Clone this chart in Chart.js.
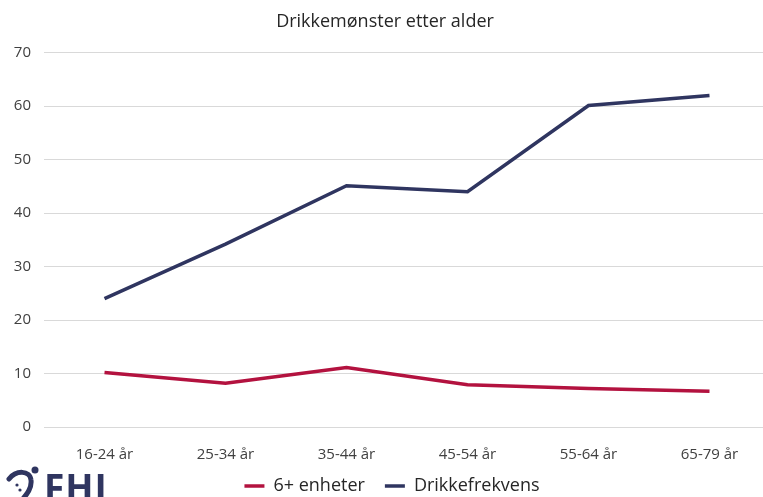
<!DOCTYPE html>
<html>
<head>
<meta charset="utf-8">
<script src="https://cdn.jsdelivr.net/npm/chart.js@4.4.0/dist/chart.umd.min.js"></script>
<style>
  html, body { margin: 0; padding: 0; background: #fff; overflow: hidden; }
  #wrap { position: relative; width: 763px; height: 497px; overflow: hidden; }
  #logo { position: absolute; left: 44px; top: 468px; font-family: "Open Sans", sans-serif; font-weight: 700;
          font-size: 37px; color: #2f3560; letter-spacing: 1px; line-height: 37px; }
  #mark { position: absolute; left: 6px; top: 464px; }
</style>
</head>
<body>
<div id="wrap">
  <canvas id="drikkeChart" width="770" height="497"></canvas>
  <svg id="mark" width="36" height="36" viewBox="0 0 36 36">
    <path d="M3 15 C 10 6, 24 6, 25 16 C 26 24, 21 30, 16 36" fill="none" stroke="#2f3560" stroke-width="5" stroke-linecap="round"/>
    <circle cx="29" cy="6" r="3.5" fill="#2f3560"/>
    <circle cx="11" cy="21" r="1.6" fill="#2f3560"/>
    <circle cx="14" cy="26" r="1.6" fill="#2f3560"/>
  </svg>
  <div id="logo">FHI</div>
</div>
<script>
// Age groups and values
const ageGroups = ['16-24 år', '25-34 år', '35-44 år', '45-54 år', '55-64 år', '65-79 år'];
const seksPlussEnheter = [10.2, 8.2, 11.1, 7.9, 7.2, 6.7];
const drikkefrekvens = [24, 34.2, 45.1, 44, 60.1, 62];
const yTicks = [0, 10, 20, 30, 40, 50, 60, 70];

// Legend sits closer to the axis labels than Chart.js spacing allows
const legendShift = {
    id: 'legendShift',
    afterLayout(chart) {
        chart.legend.top -= 18;
        chart.legend.bottom -= 18;
        chart.legend.left += 7;
        chart.legend.right += 7;
    }
};

const ctx = document.getElementById('drikkeChart').getContext('2d');
new Chart(ctx, {
    type: 'line',
    data: {
        labels: ageGroups,
        datasets: [{
            label: '6+ enheter',
            data: seksPlussEnheter,
            borderColor: '#b3123f',
            backgroundColor: '#b3123f',
            borderWidth: 3.5,
            pointRadius: 0,
            tension: 0
        }, {
            label: 'Drikkefrekvens',
            data: drikkefrekvens,
            borderColor: '#2f3560',
            backgroundColor: '#2f3560',
            borderWidth: 3.5,
            pointRadius: 0,
            tension: 0
        }]
    },
    options: {
        responsive: false,
        animation: false,
        layout: { padding: { top: 11, right: 0, bottom: -26, left: 0 } },
        plugins: {
            title: {
                display: true,
                text: 'Drikkemønster etter alder',
                color: '#262626',
                font: { family: 'Open Sans', size: 18, weight: 'normal' },
                padding: { top: 0, bottom: 20 }
            },
            legend: {
                position: 'bottom',
                labels: {
                    usePointStyle: true,
                    pointStyle: 'line',
                    pointStyleWidth: 20,
                    color: '#262626',
                    font: { family: 'Open Sans', size: 18 },
                    padding: 20
                }
            },
            tooltip: { enabled: false }
        },
        scales: {
            x: {
                offset: true,
                grid: { display: false },
                border: { display: false },
                ticks: {
                    color: '#404040',
                    font: { family: 'Open Sans', size: 15 },
                    padding: 11
                }
            },
            y: {
                min: 0,
                max: 70,
                afterBuildTicks: (axis) => { axis.ticks = yTicks.map(v => ({ value: v })); },
                afterFit: (axis) => { axis.width = 44; },
                grid: { color: '#d9d9d9', lineWidth: 1, drawTicks: false },
                border: { display: false },
                ticks: {
                    color: '#404040',
                    font: { family: 'Open Sans', size: 15 },
                    padding: 13
                }
            }
        }
    },
    plugins: [legendShift]
});
</script>
</body>
</html>
